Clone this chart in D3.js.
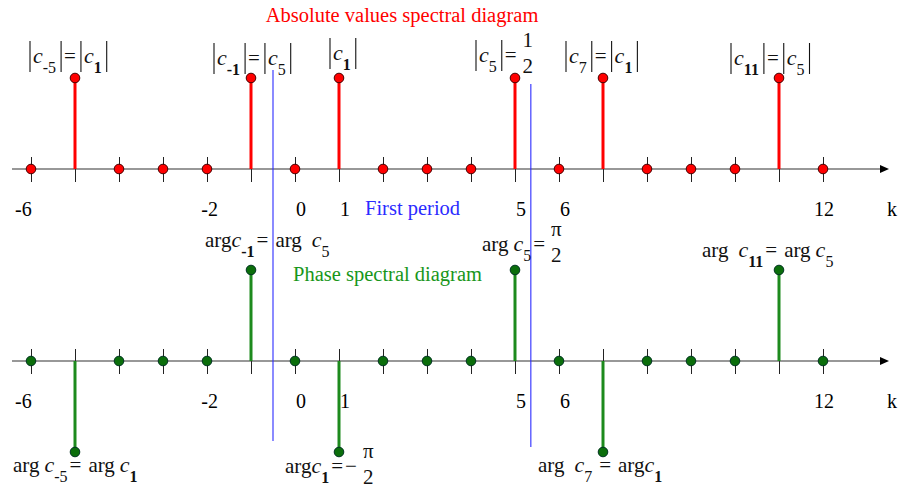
<!DOCTYPE html>
<html>
<head>
<meta charset="utf-8">
<script src="https://cdn.jsdelivr.net/npm/d3@7"></script>
<style>
  html, body { margin: 0; padding: 0; background: #fff; }
  svg { display: block; font-family: "Liberation Serif", "Times New Roman", serif; }
</style>
</head>
<body>
<svg id="chart" width="901" height="493"></svg>
<script>
// Harmonic index k shown on both axes
const kValues = d3.range(-6, 13);
// Magnitudes |c_k| for k = -6 ... 12
const absValues = [0, 0.5, 0, 0, 0, 0.5, 0, 0.5, 0, 0, 0, 0.5, 0, 0.5, 0, 0, 0, 0.5, 0];
// Phases arg c_k in radians for k = -6 ... 12
const HALF_PI = Math.PI / 2;
const phaseValues = [0, -HALF_PI, 0, 0, 0, HALF_PI, 0, -HALF_PI, 0, 0, 0, HALF_PI, 0, -HALF_PI, 0, 0, 0, HALF_PI, 0];
// Labelled ticks
const tickLabels = [-6, -2, 0, 1, 5, 6, 12];
// Borders of the first period (k units)
const periodBounds = [-0.5, 5.36];

// Annotations (mini markup: |bar|, c italic, _{sub}, \frac{num}{den})
const absLabelK = [-5, -1, 1, 5, 7, 11];
const absLabels = ["|c_{-5}|=|c_{1}|", "|c_{-1}|=|c_{5}|", "|c_{1}|", "|c_{5}|=\\frac{1}{2}", "|c_{7}|=|c_{1}|", "|c_{11}|=|c_{5}|"];
const phaseLabelK = [-5, -1, 1, 5, 7, 11];
const phaseLabels = ["arg c_{-5}= arg c_{1}", "argc_{-1}= arg  c_{5}", "argc_{1}=−\\frac{π}{2}", "arg c_{5}=\\frac{π}{2}", "arg  c_{7} = argc_{1}", "arg  c_{11}= arg c_{5}"];

const titleAbs = "Absolute values spectral diagram";
const titlePhase = "Phase spectral diagram";
const periodText = "First period";
const axisName = "k";

// ---- layout ----
const absLabelOffset = [[-48, -15], [-40, -13], [-12, -18], [-42, -16], [-40, -15], [-51, -13]];
const phaseLabelOffset = [[-62, 20], [-46, -23], [-54, 21], [-33, -19], [-65, 20], [-77, -13]];
const axisStart = 12, axisEnd = 889;

const RED = "#ff0000", GREEN = "#1d8a1d", GREEN_DOT = "#0b6e0b", BLUE = "#2b2bff";

const svg = d3.select("#chart");
const x = d3.scaleLinear().domain([-6, 12]).range([31, 823]);
const yAbs = d3.scaleLinear().domain([0, 0.5]).range([169, 78]);
const yPh = d3.scaleLinear().domain([-HALF_PI, HALF_PI]).range([452, 270]);

const absData = kValues.map((k, i) => ({ k, v: absValues[i] }));
const phData = kValues.map((k, i) => ({ k, v: phaseValues[i] }));

function drawAxis(y0) {
  const axis = d3.axisBottom(x).tickValues(kValues).tickSizeInner(13).tickSizeOuter(0).tickFormat("");
  const g = svg.append("g").attr("transform", `translate(0,${y0})`).call(axis);
  g.select(".domain").remove();
  g.selectAll(".tick line").attr("y1", -12).attr("stroke", "#222").attr("stroke-width", 1);
  svg.append("line").attr("x1", axisStart).attr("x2", axisEnd - 4).attr("y1", y0).attr("y2", y0)
    .attr("stroke", "#333").attr("stroke-width", 1.2);
  svg.append("path")
    .attr("d", d3.line()([[axisEnd, y0], [axisEnd - 9, y0 - 4], [axisEnd - 9, y0 + 4]]) + "Z")
    .attr("fill", "#000");
  // leftmost label sits at the start of the axis, the rest end just right of their tick
  svg.append("g").selectAll("text").data(tickLabels).join("text")
    .attr("x", d => d === kValues[0] ? axisStart + 3 : x(d) + 11).attr("y", y0 + 47)
    .attr("text-anchor", d => d === kValues[0] ? "start" : "end")
    .attr("font-size", 20).attr("fill", "#000")
    .text(d => d);
  svg.append("text").attr("x", axisEnd - 2).attr("y", y0 + 47)
    .attr("font-size", 20).attr("fill", "#000").text(axisName);
}

drawAxis(yAbs(0));
drawAxis(yPh(0));

// first-period borders
svg.append("line").attr("x1", x(periodBounds[0])).attr("x2", x(periodBounds[0]))
  .attr("y1", 70).attr("y2", 441).attr("stroke", BLUE).attr("stroke-width", 1.1);
svg.append("line").attr("x1", x(periodBounds[1])).attr("x2", x(periodBounds[1]))
  .attr("y1", 84).attr("y2", 447).attr("stroke", BLUE).attr("stroke-width", 1.1);

function drawStems(data, y, stemColor, dotColor, dotStroke) {
  svg.append("g").selectAll("line").data(data.filter(d => d.v !== 0)).join("line")
    .attr("x1", d => x(d.k)).attr("x2", d => x(d.k))
    .attr("y1", y(0)).attr("y2", d => y(d.v))
    .attr("stroke", stemColor).attr("stroke-width", 3);
  svg.append("g").selectAll("circle").data(data).join("circle")
    .attr("cx", d => x(d.k)).attr("cy", d => y(d.v)).attr("r", 4.8)
    .attr("fill", dotColor).attr("stroke", dotStroke).attr("stroke-width", 1);
}
drawStems(absData, yAbs, RED, RED, "#400");
drawStems(phData, yPh, GREEN, GREEN_DOT, "#032");

// formula renderer
function drawMath(g, src) {
  const re = /\\frac\{([^}]*)\}\{([^}]*)\}|_\{([^}]*)\}|\||arg|c|=|−| /g;
  let cx = 0, m;
  while ((m = re.exec(src)) !== null) {
    const tok = m[0];
    if (m[1] !== undefined) {
      cx += 3;
      const num = g.append("text").attr("font-size", 21).attr("text-anchor", "middle").text(m[1]);
      const den = g.append("text").attr("font-size", 21).attr("text-anchor", "middle").text(m[2]);
      const w = Math.max(num.node().getComputedTextLength(), den.node().getComputedTextLength());
      num.attr("x", cx + 1 + w / 2).attr("y", -15);
      den.attr("x", cx + 1 + w / 2).attr("y", 11);
      cx += w + 2;
    } else if (m[3] !== undefined) {
      const t = g.append("text").attr("x", cx).attr("y", 10).attr("font-size", 16)
        .attr("font-weight", m[3].includes("1") ? "bold" : "normal").text(m[3]);
      cx += t.node().getComputedTextLength() + 2;
    } else if (tok === "|") {
      g.append("line").attr("x1", cx + 3).attr("x2", cx + 3).attr("y1", -22).attr("y2", 9)
        .attr("stroke", "#111").attr("stroke-width", 1.1);
      cx += 6;
    } else if (tok === " ") {
      cx += 5;
    } else {
      const t = g.append("text").attr("x", cx).attr("y", 0)
        .attr("font-size", tok === "c" ? 22 : 21)
        .attr("font-style", tok === "c" ? "italic" : "normal").text(tok);
      cx += t.node().getComputedTextLength() + (tok === "=" || tok === "−" ? 2 : 0);
    }
  }
}

absLabels.forEach((s, i) => {
  const k = absLabelK[i];
  const v = absValues[kValues.indexOf(k)];
  const g = svg.append("g").attr("fill", "#111")
    .attr("transform", `translate(${x(k) + absLabelOffset[i][0]},${yAbs(v) + absLabelOffset[i][1]})`);
  drawMath(g, s);
});
phaseLabels.forEach((s, i) => {
  const k = phaseLabelK[i];
  const v = phaseValues[kValues.indexOf(k)];
  const g = svg.append("g").attr("fill", "#111")
    .attr("transform", `translate(${x(k) + phaseLabelOffset[i][0]},${yPh(v) + phaseLabelOffset[i][1]})`);
  drawMath(g, s);
});

// titles
svg.append("text").attr("x", 402).attr("y", 22).attr("text-anchor", "middle")
  .attr("font-size", 20.5).attr("fill", RED).text(titleAbs);
svg.append("text").attr("x", 365).attr("y", 215)
  .attr("font-size", 20.5).attr("fill", BLUE).text(periodText);
svg.append("text").attr("x", 293).attr("y", 281)
  .attr("font-size", 20.5).attr("fill", "#18961a").text(titlePhase);
</script>
</body>
</html>
